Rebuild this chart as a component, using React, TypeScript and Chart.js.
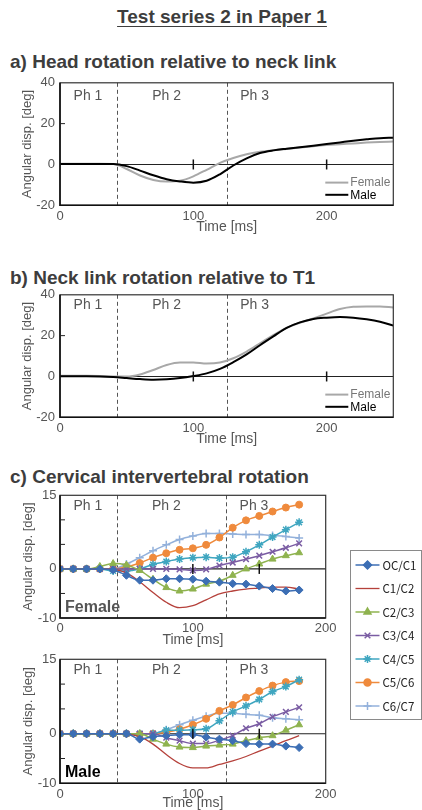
import React, { useEffect, useRef } from "react";
import { Chart, registerables } from "chart.js";
import { drawPoint } from "chart.js/helpers";

Chart.register(...registerables);

const FONT = "'Liberation Sans', Arial, Helvetica, sans-serif";
const LEGEND_FONT = "'Noto Sans CJK JP', 'Noto Sans', sans-serif";
const TEXT_GRAY = "#555555";

// ---------- shared annotations ----------
const phaseBoundaries = [43, 125];
const phaseLabels = ["Ph 1", "Ph 2", "Ph 3"];
const phaseLabelTimes = [21, 80, 146];

// ---------- panels a) and b) ----------
const timeAB = [0, 10, 20, 30, 40, 50, 60, 70, 80, 90, 100, 110, 120, 130, 140, 150, 160, 170, 180, 190, 200, 210, 220, 230, 240, 250];
const headFemale = [0.3, 0.3, 0.3, 0.3, 0.2, -2.2, -5.4, -7.6, -8.4, -8.0, -5.8, -2.6, 0.8, 3.2, 5.0, 6.2, 7.0, 7.6, 8.3, 8.9, 9.5, 9.9, 10.3, 10.7, 11.0, 11.2];
const headMale = [0.2, 0.2, 0.2, 0.2, 0.2, -0.8, -3.0, -5.3, -7.2, -8.3, -8.9, -8.0, -4.8, -0.5, 3.0, 5.6, 6.9, 7.7, 8.4, 9.2, 10.0, 10.8, 11.6, 12.3, 12.9, 13.1];
const neckFemale = [0.3, 0.3, 0.3, 0.2, 0.0, 0.0, 1.0, 3.2, 5.6, 6.8, 6.8, 6.3, 6.8, 8.9, 12.2, 16.2, 20.3, 23.8, 26.3, 28.4, 30.8, 33.0, 34.1, 34.3, 34.3, 33.8];
const neckMale = [0.1, 0.1, 0.1, 0.0, -0.3, -0.8, -1.3, -1.6, -1.4, -0.8, 0.2, 1.5, 3.7, 7.0, 10.8, 15.3, 19.6, 23.8, 26.5, 28.2, 28.8, 29.1, 28.8, 28.0, 26.8, 24.9];
const yTicksAB = [-20, 0, 20, 40];
const xTicksAB = [0, 100, 200];
const xZeroTicksAB = [100, 200];

// ---------- panel c) ----------
const timeC = [0, 10, 20, 30, 40, 50, 60, 70, 80, 90, 100, 110, 120, 130, 140, 150, 160, 170, 180];
const segmentLabels = ["OC/C1", "C1/C2", "C2/C3", "C3/C4", "C4/C5", "C5/C6", "C6/C7"];
const segmentColors = ["#3c6eb4", "#b5413b", "#8fb34f", "#7a5ca3", "#3fa6c0", "#ef8a3c", "#93b1db"];
const segmentMarkers = ["rectRot", "none", "triangle", "crossRot", "star", "circle", "cross"];

const femaleOCC1 = [0, 0, 0, 0, -0.2, -1.3, -2.3, -2.3, -2.0, -2.0, -2.1, -2.5, -2.7, -3.0, -3.1, -3.5, -4.0, -4.5, -4.3];
const femaleC1C2 = [0, 0, 0, 0, -0.1, -0.8, -2.6, -4.8, -6.8, -7.9, -7.5, -6.3, -5.1, -4.5, -4.1, -3.9, -3.7, -3.7, -4.1];
const femaleC2C3 = [0, 0, 0, 0.5, 1.1, 0.8, -0.3, -2.1, -3.8, -4.5, -4.1, -3.1, -2.5, -1.3, 0, 1.0, 2.0, 2.7, 3.3];
const femaleC3C4 = [0, 0, 0, 0, 0, 0, 0, 0, 0, -0.1, -0.3, -0.1, 0.7, 1.3, 2.0, 2.7, 3.5, 4.3, 5.2];
const femaleC4C5 = [0, 0, 0, 0, -0.4, -0.4, 0, 0.9, 1.5, 2.0, 2.3, 2.4, 2.2, 2.4, 3.5, 4.9, 6.5, 8.0, 9.5];
const femaleC5C6 = [0, 0, 0, 0, 0, 0.4, 1.2, 2.3, 3.2, 3.9, 4.2, 4.9, 6.4, 8.4, 9.9, 10.8, 11.7, 12.5, 13.1];
const femaleC6C7 = [0, 0, 0, 0, 0, 1.0, 2.3, 3.7, 4.9, 6.0, 6.7, 7.2, 7.2, 7.1, 7.0, 7.0, 6.8, 6.6, 6.3];

const maleOCC1 = [0, 0, 0, 0, 0, 0, -1.1, -0.6, -0.4, -0.2, -0.2, -0.7, -1.1, -1.4, -2.0, -2.1, -2.1, -2.5, -2.8];
const maleC1C2 = [0, 0, 0, 0, 0, -0.1, -0.6, -2.1, -4.2, -6.0, -6.9, -6.9, -6.2, -5.5, -4.6, -3.5, -2.5, -1.4, -0.4];
const maleC2C3 = [0, 0, 0, 0, 0, 0, 0, -1.1, -2.1, -2.7, -2.8, -2.5, -2.3, -2.1, -1.4, -0.8, -0.4, 0.7, 1.8];
const maleC3C4 = [0, 0, 0, 0, 0, 0, 0, 0, -0.8, -1.4, -2.0, -2.0, -1.3, -0.4, 1.1, 2.0, 3.4, 4.4, 5.3];
const maleC4C5 = [0, 0, 0, 0, 0, 0, 0, 0, 0.7, 0.7, 0.8, 1.0, 2.6, 4.4, 5.6, 6.9, 8.5, 9.5, 10.9];
const maleC5C6 = [0, 0, 0, 0, 0, 0, -0.1, 0, 0.3, 0.9, 1.8, 3.0, 4.6, 5.8, 7.3, 8.6, 9.7, 10.4, 10.6];
const maleC6C7 = [0, 0, 0, 0, 0, 0, 0, 0, 0.8, 1.8, 2.7, 3.5, 4.1, 4.1, 3.9, 3.7, 3.2, 3.0, 2.8];

const femaleSeries = [femaleOCC1, femaleC1C2, femaleC2C3, femaleC3C4, femaleC4C5, femaleC5C6, femaleC6C7];
const maleSeries = [maleOCC1, maleC1C2, maleC2C3, maleC3C4, maleC4C5, maleC5C6, maleC6C7];
const yTicksC = [-10, -5, 0, 5, 10, 15];
const yLabelsC = [-10, 0, 15];
const xTicksC = [0, 100, 200];
const xZeroTicksC = [100, 150];

// ---------- decoration plugin ----------
type DecorCfg = {
  phaseOffset: number;
  xZeroTicks: number[];
  insideLegend?: boolean;
  panelText?: { text: string; color: string };
  boxLegend?: { left: number; top: number; right: number; bottom: number; firstY: number; step: number };
};

function markerRadius(style: string) {
  if (style === "circle") return 3.5;
  return 4;
}

function makeDecor(cfg: DecorCfg) {
  return {
    id: "decor",
    beforeDatasetsDraw(chart: any) {
      const { ctx, chartArea: a, scales } = chart;
      const xs = scales.x;
      const ys = scales.y;
      ctx.save();
      ctx.strokeStyle = "#555";
      ctx.lineWidth = 1;
      ctx.setLineDash([4, 3]);
      for (const t of phaseBoundaries) {
        const px = Math.round(xs.getPixelForValue(t)) + 0.5;
        ctx.beginPath();
        ctx.moveTo(px, a.top);
        ctx.lineTo(px, a.bottom);
        ctx.stroke();
      }
      ctx.setLineDash([]);
      const y0 = ys.getPixelForValue(0);
      ctx.strokeStyle = "#222";
      ctx.lineWidth = 1.1;
      ctx.beginPath();
      ctx.moveTo(a.left, y0);
      ctx.lineTo(a.right, y0);
      ctx.stroke();
      ctx.restore();
    },
    afterDraw(chart: any) {
      const { ctx, chartArea: a, scales } = chart;
      const xs = scales.x;
      const ys = scales.y;
      ctx.save();
      // frame
      ctx.strokeStyle = "#333";
      ctx.lineWidth = 1.2;
      ctx.strokeRect(a.left, a.top, a.right - a.left, a.bottom - a.top);
      ctx.strokeStyle = "#111";
      ctx.lineWidth = 1.6;
      ctx.beginPath();
      ctx.moveTo(a.left, a.top);
      ctx.lineTo(a.left, a.bottom);
      ctx.lineTo(a.right, a.bottom);
      ctx.stroke();
      // inward y ticks
      ctx.lineWidth = 1;
      ctx.strokeStyle = "#222";
      for (const tk of ys.ticks) {
        if (tk.value === ys.min || tk.value === ys.max || tk.value === 0) continue;
        const py = ys.getPixelForValue(tk.value);
        ctx.beginPath();
        ctx.moveTo(a.left, py);
        ctx.lineTo(a.left + 5, py);
        ctx.stroke();
      }
      // ticks on zero line
      const y0 = ys.getPixelForValue(0);
      ctx.lineWidth = 1.5;
      ctx.strokeStyle = "#111";
      for (const t of cfg.xZeroTicks) {
        const px = xs.getPixelForValue(t);
        ctx.beginPath();
        ctx.moveTo(px, y0 - 5);
        ctx.lineTo(px, y0 + 5);
        ctx.stroke();
      }
      // phase labels
      ctx.fillStyle = TEXT_GRAY;
      ctx.font = `14px ${FONT}`;
      ctx.textAlign = "center";
      ctx.textBaseline = "middle";
      phaseLabels.forEach((lab, i) => {
        ctx.fillText(lab, xs.getPixelForValue(phaseLabelTimes[i]), a.top + cfg.phaseOffset);
      });
      // inside legend
      if (cfg.insideLegend) {
        const rows = [a.bottom - 22.7, a.bottom - 10.5];
        chart.data.datasets.forEach((ds: any, i: number) => {
          const y = rows[i];
          ctx.strokeStyle = ds.borderColor;
          ctx.lineWidth = 2;
          ctx.beginPath();
          ctx.moveTo(a.right - 68, y);
          ctx.lineTo(a.right - 45, y);
          ctx.stroke();
          ctx.fillStyle = i === 0 ? "#777" : "#000";
          ctx.font = `12px ${FONT}`;
          ctx.textAlign = "left";
          ctx.textBaseline = "middle";
          ctx.fillText(ds.label, a.right - 43, y + 0.5);
        });
      }
      // panel text
      if (cfg.panelText) {
        ctx.fillStyle = cfg.panelText.color;
        ctx.font = `bold 16px ${FONT}`;
        ctx.textAlign = "left";
        ctx.textBaseline = "alphabetic";
        ctx.fillText(cfg.panelText.text, a.left + 5, a.bottom - 6);
      }
      // boxed legend
      if (cfg.boxLegend) {
        const b = cfg.boxLegend;
        ctx.strokeStyle = "#8a8a8a";
        ctx.lineWidth = 1;
        ctx.strokeRect(b.left + 0.5, b.top + 0.5, b.right - b.left, b.bottom - b.top);
        chart.data.datasets.forEach((ds: any, i: number) => {
          const y = b.firstY + i * b.step;
          ctx.strokeStyle = ds.borderColor;
          ctx.lineWidth = ds.borderWidth;
          ctx.beginPath();
          ctx.moveTo(b.left + 5.5, y);
          ctx.lineTo(b.left + 29.5, y);
          ctx.stroke();
          if (ds.pointStyle !== "none") {
            ctx.fillStyle = ds.pointBackgroundColor;
            ctx.strokeStyle = ds.pointBorderColor;
            drawPoint(ctx, { pointStyle: ds.pointStyle, rotation: 0, radius: ds.pointRadius, borderWidth: ds.pointBorderWidth }, b.left + 17.5, y);
          }
          ctx.fillStyle = "#222";
          ctx.font = `11.5px ${LEGEND_FONT}`;
          ctx.textAlign = "left";
          ctx.textBaseline = "middle";
          ctx.fillText(ds.label, b.left + 32.5, y + 0.5);
        });
      }
      ctx.restore();
    },
  };
}

// ---------- config builders ----------
function axisTitle(text: string, size: number, padding: any) {
  return { display: true, text, color: TEXT_GRAY, font: { family: FONT, size }, padding };
}

function tickFont() {
  return { family: FONT, size: 13 };
}

const noGrid = { display: false, drawTicks: false, drawOnChartArea: false };

function configAB(female: number[], male: number[], phaseOffset: number) {
  return {
    type: "line",
    data: {
      datasets: [
        {
          label: "Female",
          data: timeAB.map((t, i) => ({ x: t, y: female[i] })),
          borderColor: "#a8a8a8",
          borderWidth: 2,
          pointRadius: 0,
          cubicInterpolationMode: "monotone",
          order: 2,
        },
        {
          label: "Male",
          data: timeAB.map((t, i) => ({ x: t, y: male[i] })),
          borderColor: "#000000",
          borderWidth: 2,
          pointRadius: 0,
          cubicInterpolationMode: "monotone",
          order: 1,
        },
      ],
    },
    options: {
      responsive: false,
      animation: false,
      events: [],
      layout: { padding: { top: 11, right: 28.7, bottom: 0, left: 0 } },
      plugins: { legend: { display: false }, tooltip: { enabled: false } },
      scales: {
        x: {
          type: "linear",
          min: 0,
          max: 250,
          afterBuildTicks: (s: any) => {
            s.ticks = xTicksAB.map((v) => ({ value: v }));
          },
          afterFit: (s: any) => {
            s.height = 34.7;
          },
          grid: noGrid,
          border: { display: false },
          ticks: { color: TEXT_GRAY, font: tickFont(), padding: 3, maxRotation: 0, autoSkip: false },
          title: axisTitle("Time [ms]", 14, { top: 0, bottom: 4.3 }),
        },
        y: {
          type: "linear",
          min: -20,
          max: 40,
          afterBuildTicks: (s: any) => {
            s.ticks = yTicksAB.map((v) => ({ value: v }));
          },
          afterFit: (s: any) => {
            s.width = 60;
          },
          grid: noGrid,
          border: { display: false },
          ticks: { color: TEXT_GRAY, font: tickFont(), padding: 5, autoSkip: false },
          title: axisTitle("Angular disp. [deg]", 13, { top: 20, bottom: 0 }),
        },
      },
    },
    plugins: [makeDecor({ phaseOffset, xZeroTicks: xZeroTicksAB, insideLegend: true })],
  };
}

function configC(series: number[][], panel: { text: string; color: string }, padding: any, titleBottom: number, boxLegend?: any) {
  return {
    type: "line",
    data: {
      datasets: series.map((vals, k) => {
        const style = segmentMarkers[k];
        const hasMarker = style !== "none";
        return {
          label: segmentLabels[k],
          data: timeC.map((t, i) => ({ x: t, y: vals[i] })),
          borderColor: segmentColors[k],
          borderWidth: k === 1 ? 1.3 : 1.5,
          pointStyle: style,
          pointRadius: hasMarker ? markerRadius(style) : 0,
          pointBackgroundColor: segmentColors[k],
          pointBorderColor: segmentColors[k],
          pointBorderWidth: style === "cross" || style === "crossRot" || style === "star" ? 1.5 : 1,
          cubicInterpolationMode: "monotone",
        };
      }),
    },
    options: {
      responsive: false,
      animation: false,
      events: [],
      layout: { padding },
      plugins: { legend: { display: false }, tooltip: { enabled: false } },
      scales: {
        x: {
          type: "linear",
          min: 0,
          max: 200,
          afterBuildTicks: (s: any) => {
            s.ticks = xTicksC.map((v) => ({ value: v }));
          },
          afterFit: (s: any) => {
            s.height = 34.7;
          },
          grid: noGrid,
          border: { display: false },
          ticks: { color: TEXT_GRAY, font: tickFont(), padding: 3, maxRotation: 0, autoSkip: false },
          title: axisTitle("Time [ms]", 14, { top: 0, bottom: titleBottom }),
        },
        y: {
          type: "linear",
          min: -10,
          max: 15,
          afterBuildTicks: (s: any) => {
            s.ticks = yTicksC.map((v) => ({ value: v }));
          },
          afterFit: (s: any) => {
            s.width = 60;
          },
          grid: noGrid,
          border: { display: false },
          ticks: {
            color: TEXT_GRAY,
            font: tickFont(),
            padding: 3.5,
            autoSkip: false,
            callback: (v: any) => (yLabelsC.includes(Number(v)) ? String(v) : ""),
          },
          title: axisTitle("Angular disp. [deg]", 13, { top: 21, bottom: 0 }),
        },
      },
    },
    plugins: [makeDecor({ phaseOffset: 10.5, xZeroTicks: xZeroTicksC, panelText: panel, boxLegend })],
  };
}

// ---------- components ----------
function ChartCanvas({ top, width, height, make }: { top: number; width: number; height: number; make: () => any }) {
  const ref = useRef<HTMLCanvasElement | null>(null);
  useEffect(() => {
    const chart = new Chart(ref.current as HTMLCanvasElement, make());
    return () => chart.destroy();
  }, []);
  return (
    <canvas
      ref={ref}
      width={width}
      height={height}
      style={{ position: "absolute", left: 0, top, width, height }}
    />
  );
}

const headingStyle: React.CSSProperties = {
  position: "absolute",
  left: 10,
  margin: 0,
  fontFamily: FONT,
  fontWeight: "bold",
  fontSize: 19,
  lineHeight: "19px",
  color: "#3d3d3d",
  whiteSpace: "nowrap",
};

export default function App() {
  return (
    <div
      style={{
        position: "absolute",
        left: 0,
        top: 0,
        width: 422,
        height: 810,
        overflow: "hidden",
        background: "#ffffff",
      }}
    >
      <div
        style={{
          position: "absolute",
          left: 0,
          top: 7,
          width: 422,
          textAlign: "center",
          fontFamily: FONT,
          fontWeight: "bold",
          fontSize: 19,
          lineHeight: "19px",
          color: "#3d3d3d",
          textDecoration: "underline",
          textUnderlineOffset: "3px",
          paddingLeft: 22,
          boxSizing: "border-box",
        }}
      >
        Test series 2 in Paper 1
      </div>
      <div style={{ ...headingStyle, top: 52 }}>a) Head rotation relative to neck link</div>
      <div style={{ ...headingStyle, top: 268 }}>b) Neck link rotation relative to T1</div>
      <div style={{ ...headingStyle, top: 467 }}>c) Cervical intervertebral rotation</div>

      <ChartCanvas top={70} width={422} height={170} make={() => configAB(headFemale, headMale, 13)} />
      <ChartCanvas top={282.3} width={422} height={170} make={() => configAB(neckFemale, neckMale, 10.7)} />
      <ChartCanvas
        top={484}
        width={422}
        height={236}
        make={() =>
          configC(
            femaleSeries,
            { text: "Female", color: "#555555" },
            { top: 10, right: 96.3, bottom: 67.3, left: 0 },
            4.3,
            { left: 350, top: 66, right: 421, bottom: 235, firstY: 81, step: 23.5 }
          )
        }
      />
      <ChartCanvas
        top={648}
        width={422}
        height={170}
        make={() =>
          configC(
            maleSeries,
            { text: "Male", color: "#000000" },
            { top: 10.3, right: 96.3, bottom: 0, left: 0 },
            6.3
          )
        }
      />
    </div>
  );
}
